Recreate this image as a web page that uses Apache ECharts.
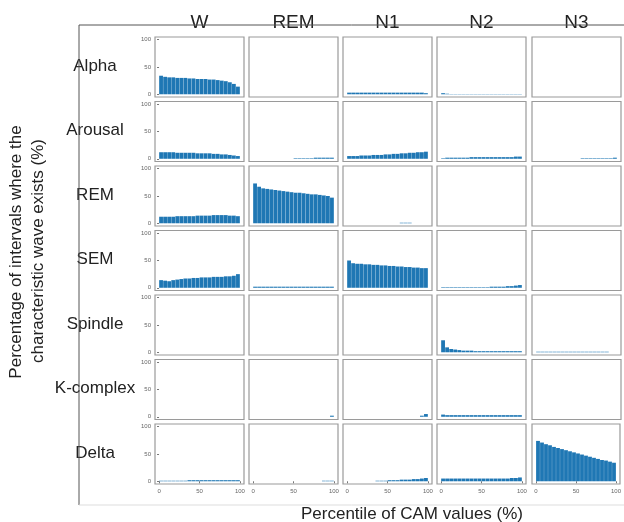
<!DOCTYPE html>
<html>
<head>
<meta charset="utf-8">
<script src="https://cdn.jsdelivr.net/npm/echarts@6/dist/echarts.min.js"></script>
<style>
  html, body { margin: 0; padding: 0; background: #fff; }
  #chart { width: 624px; height: 522px; }
</style>
</head>
<body>
<div id="chart"></div>
<script>
// stages (columns) and wave types (rows)
const stages = ['W', 'REM', 'N1', 'N2', 'N3'];
const waves = ['Alpha', 'Arousal', 'REM', 'SEM', 'Spindle', 'K-complex', 'Delta'];
// percentile bins (5% each, bin centres)
const percentiles = [2.5, 7.5, 12.5, 17.5, 22.5, 27.5, 32.5, 37.5, 42.5, 47.5,
  52.5, 57.5, 62.5, 67.5, 72.5, 77.5, 82.5, 87.5, 92.5, 97.5];
const xTicks = [0, 50, 100];
const yTicks = [0, 50, 100];

// values per row, one list per stage (W, REM, N1, N2, N3)
const alpha = [
  [34, 32, 31, 31, 30, 30, 30, 29, 29, 28, 28, 28, 27, 27, 26, 25, 24, 22, 19, 14],
  [0, 0, 0, 0, 0, 0, 0, 0, 0, 0, 0, 0, 0, 0, 0, 0, 0, 0, 0, 0],
  [3, 3, 3, 3, 3, 3, 3, 3, 3, 3, 3, 3, 3, 3, 3, 3, 3, 3, 3, 2],
  [2, 1, 0.5, 0.5, 0.5, 0.5, 0.5, 0.5, 0.5, 0.5, 0.5, 0.5, 0.5, 0.5, 0.5, 0.5, 0.5, 0.5, 0.5, 0.5],
  [0, 0, 0, 0, 0, 0, 0, 0, 0, 0, 0, 0, 0, 0, 0, 0, 0, 0, 0, 0]
];
const arousal = [
  [12, 12, 12, 12, 11, 11, 11, 11, 11, 10, 10, 10, 10, 9, 9, 8, 8, 7, 6, 5],
  [0, 0, 0, 0, 0, 0, 0, 0, 0, 0, 1, 1, 1, 1, 1, 2, 2, 2, 2, 2],
  [5, 5, 5, 6, 6, 6, 7, 7, 7, 8, 8, 9, 9, 10, 10, 11, 11, 12, 12, 13],
  [1, 2, 2, 2, 2, 2, 2, 3, 3, 3, 3, 3, 3, 3, 3, 3, 3, 3, 4, 4],
  [0, 0, 0, 0, 0, 0, 0, 0, 0, 0, 0, 1, 1, 1, 1, 1, 1, 1, 1, 2]
];
const rem = [
  [12, 12, 12, 12, 13, 13, 13, 13, 13, 14, 14, 14, 14, 15, 15, 15, 15, 14, 14, 13],
  [73, 67, 64, 63, 62, 61, 60, 59, 58, 57, 56, 56, 55, 54, 53, 53, 52, 51, 50, 47],
  [0, 0, 0, 0, 0, 0, 0, 0, 0, 0, 0, 0, 0, 1, 1, 1, 0, 0, 0, 0],
  [0, 0, 0, 0, 0, 0, 0, 0, 0, 0, 0, 0, 0, 0, 0, 0, 0, 0, 0, 0],
  [0, 0, 0, 0, 0, 0, 0, 0, 0, 0, 0, 0, 0, 0, 0, 0, 0, 0, 0, 0]
];
const sem = [
  [14, 13, 12, 14, 15, 16, 17, 17, 18, 18, 19, 19, 19, 20, 20, 20, 21, 21, 22, 25],
  [2, 2, 2, 2, 2, 2, 2, 2, 2, 2, 2, 2, 2, 2, 2, 2, 2, 2, 2, 2],
  [50, 45, 44, 44, 43, 43, 42, 42, 41, 41, 40, 40, 39, 39, 38, 38, 37, 37, 36, 36],
  [1, 1, 1, 1, 1, 1, 1, 1, 1, 1, 1, 1, 2, 2, 2, 2, 3, 3, 4, 5],
  [0, 0, 0, 0, 0, 0, 0, 0, 0, 0, 0, 0, 0, 0, 0, 0, 0, 0, 0, 0]
];
const spindle = [
  [0, 0, 0, 0, 0, 0, 0, 0, 0, 0, 0, 0, 0, 0, 0, 0, 0, 0, 0, 0],
  [0, 0, 0, 0, 0, 0, 0, 0, 0, 0, 0, 0, 0, 0, 0, 0, 0, 0, 0, 0],
  [0, 0, 0, 0, 0, 0, 0, 0, 0, 0, 0, 0, 0, 0, 0, 0, 0, 0, 0, 0],
  [22, 9, 6, 5, 4, 3, 3, 3, 2, 2, 2, 2, 2, 2, 2, 2, 2, 2, 2, 2],
  [1, 1, 1, 1, 1, 1, 1, 1, 1, 1, 1, 1, 1, 1, 1, 1, 1, 1, 0, 0]
];
const kcomplex = [
  [0, 0, 0, 0, 0, 0, 0, 0, 0, 0, 0, 0, 0, 0, 0, 0, 0, 0, 0, 0],
  [0, 0, 0, 0, 0, 0, 0, 0, 0, 0, 0, 0, 0, 0, 0, 0, 0, 0, 0, 2],
  [0, 0, 0, 0, 0, 0, 0, 0, 0, 0, 0, 0, 0, 0, 0, 0, 0, 0, 2, 5],
  [4, 3, 3, 3, 3, 3, 3, 3, 3, 3, 3, 3, 3, 3, 3, 3, 3, 3, 3, 3],
  [0, 0, 0, 0, 0, 0, 0, 0, 0, 0, 0, 0, 0, 0, 0, 0, 0, 0, 0, 0]
];
const delta = [
  [1, 1, 1, 1, 1, 1, 1, 2, 2, 2, 2, 2, 2, 2, 2, 2, 2, 2, 2, 2],
  [0, 0, 0, 0, 0, 0, 0, 0, 0, 0, 0, 0, 0, 0, 0, 0, 0, 1, 1, 1],
  [0, 0, 0, 0, 0, 0, 0, 1, 1, 1, 2, 2, 2, 3, 3, 3, 4, 4, 5, 6],
  [5, 5, 5, 5, 5, 5, 5, 5, 5, 5, 5, 5, 5, 5, 5, 5, 5, 6, 6, 7],
  [74, 71, 68, 66, 63, 61, 59, 57, 55, 53, 51, 49, 47, 45, 43, 41, 39, 38, 36, 34]
];
const rows = [alpha, arousal, rem, sem, spindle, kcomplex, delta];

// panel layout (px)
const colLeft = [155, 249, 343, 437, 532];
const panelW = 89;
const rowTop0 = 37;
const rowStep = 64.5;
const panelH = 60;

const font = 'Liberation Sans, Arial, sans-serif';

const grid = [], xAxis = [], yAxis = [], series = [], graphic = [];

rows.forEach((rowData, r) => {
  rowData.forEach((vals, c) => {
    const idx = grid.length;
    grid.push({
      left: colLeft[c], top: rowTop0 + r * rowStep,
      width: panelW, height: panelH,
      show: true, borderColor: '#9a9a9a', borderWidth: 1.2,
      backgroundColor: '#fff'
    });
    const bottom = r === rows.length - 1;
    xAxis.push({
      gridIndex: idx, type: 'value', min: -5, max: 105,
      axisLine: { show: false },
      splitLine: { show: false },
      axisTick: { show: bottom, length: 2, customValues: xTicks, lineStyle: { color: '#777' } },
      axisLabel: { show: bottom, customValues: xTicks, fontSize: 6, color: '#666', margin: 4, fontFamily: font }
    });
    yAxis.push({
      gridIndex: idx, type: 'value', min: -5, max: 105,
      axisLine: { show: false },
      splitLine: { show: false },
      axisTick: { show: c === 0, length: 2, customValues: yTicks, lineStyle: { color: '#777' } },
      axisLabel: { show: c === 0, customValues: yTicks, fontSize: 6, color: '#666', margin: 4, fontFamily: font }
    });
    series.push({
      type: 'bar', xAxisIndex: idx, yAxisIndex: idx,
      barWidth: 3.8,
      itemStyle: { color: '#1f77b4' },
      silent: true,
      data: percentiles.map((p, i) => [p, vals[i]])
    });
  });
});

// column titles
stages.forEach((s, c) => {
  graphic.push({
    type: 'text', x: colLeft[c] + panelW / 2, y: 23,
    style: { text: s, font: '19px ' + font, fill: '#222', align: 'center', verticalAlign: 'middle' }
  });
});
// row labels
waves.forEach((w, r) => {
  graphic.push({
    type: 'text', x: 95, y: rowTop0 + r * rowStep + 29,
    style: { text: w, font: '17px ' + font, fill: '#222', align: 'center', verticalAlign: 'middle' }
  });
});
// outer frame
graphic.push(
  { type: 'line', shape: { x1: 79, y1: 25, x2: 624, y2: 25 }, style: { stroke: '#555', lineWidth: 1 } },
  { type: 'line', shape: { x1: 79, y1: 25, x2: 79, y2: 505 }, style: { stroke: '#555', lineWidth: 1 } },
  { type: 'line', shape: { x1: 79, y1: 505, x2: 624, y2: 505 }, style: { stroke: '#ddd', lineWidth: 1 } }
);
// axis titles
graphic.push(
  {
    type: 'text', x: 16, y: 252, rotation: Math.PI / 2,
    style: { text: 'Percentage of intervals where the', font: '17px ' + font, fill: '#222', align: 'center', verticalAlign: 'middle' }
  },
  {
    type: 'text', x: 38, y: 251, rotation: Math.PI / 2,
    style: { text: 'characteristic wave exists (%)', font: '17px ' + font, fill: '#222', align: 'center', verticalAlign: 'middle' }
  },
  {
    type: 'text', x: 412, y: 514,
    style: { text: 'Percentile of CAM values (%)', font: '17px ' + font, fill: '#222', align: 'center', verticalAlign: 'middle' }
  }
);

const chart = echarts.init(document.getElementById('chart'));
chart.setOption({
  animation: false,
  backgroundColor: '#fff',
  grid, xAxis, yAxis, series, graphic
});
</script>
</body>
</html>
